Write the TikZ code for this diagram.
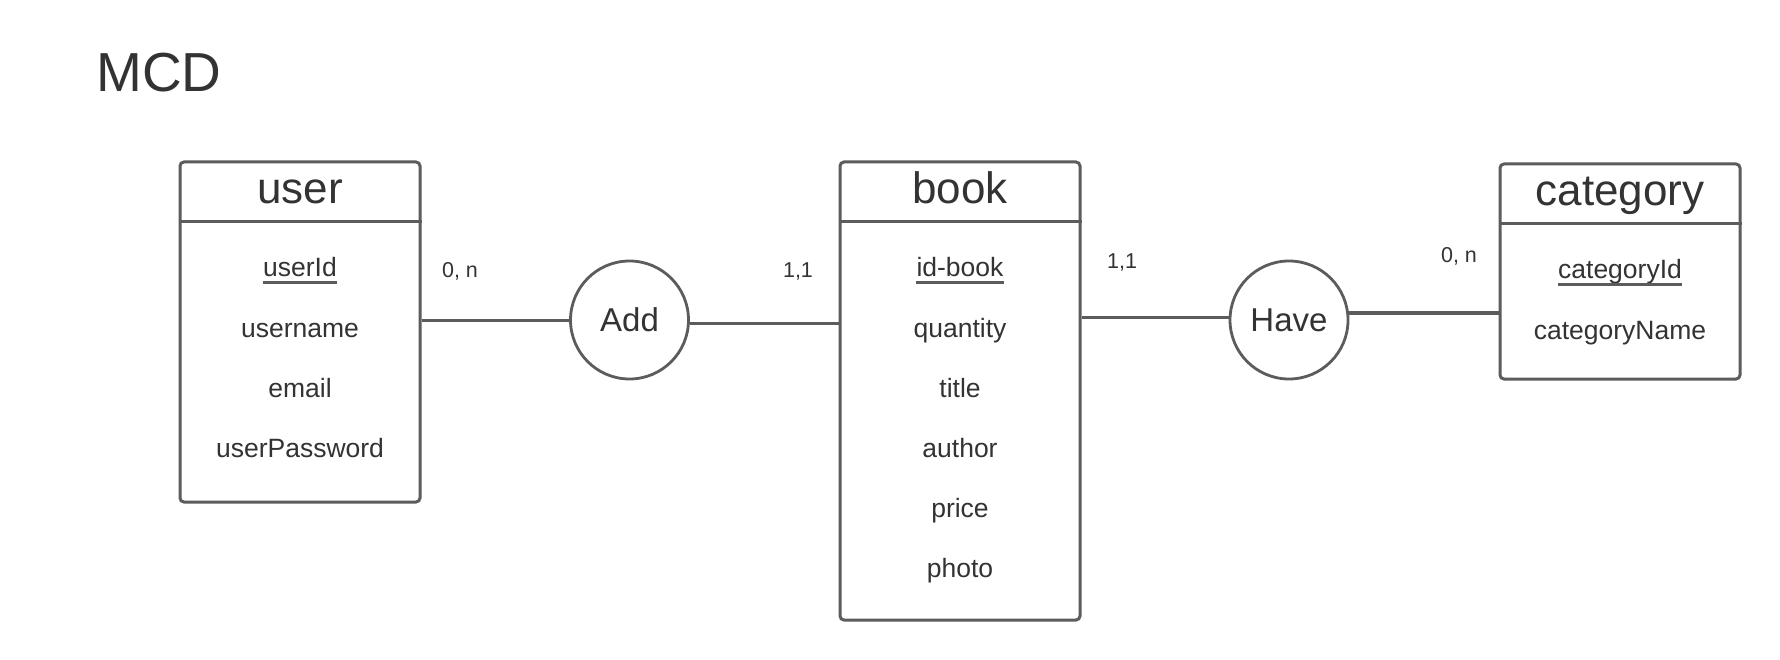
\documentclass[tikz,border=0pt]{standalone}
\usepackage{fontspec}
\setmainfont{Liberation Sans}
\usetikzlibrary{positioning}
\definecolor{linegray}{HTML}{5C5C5C}
\definecolor{textgray}{HTML}{333333}
\tikzset{
	entity/.style={draw=linegray,line width=3,rounded corners=4,minimum width=240,inner sep=0},
	header/.style={anchor=base,inner sep=0,text=textgray,font=\fontsize{44}{50}\selectfont},
	attr/.style={anchor=base,inner sep=0,text=textgray,font=\fontsize{26.5}{30}\selectfont},
	relation/.style={draw=linegray,line width=2.8,circle,minimum size=118,inner sep=0,text=textgray,font=\fontsize{33}{38}\selectfont},
	card/.style={anchor=base,inner sep=0,text=textgray,font=\fontsize{21.5}{24}\selectfont},
	link/.style={draw=linegray,line width=3},
	keyline/.style={draw=linegray,line width=2.6}
}
\begin{document}
\begin{tikzpicture}[x=1pt,y=-1pt]
			\useasboundingbox[fill=white] (0,0) rectangle (1780,660);
			\node[anchor=base west,inner sep=0,text=textgray,font=\fontsize{55}{62}\selectfont] (mcd) at (96,92) {MCD};
			
			\node[entity,minimum height=340] (user) at (300,332) {};
			\node[entity,minimum height=458] (book) at (960,391) {};
			\node[entity,minimum height=215] (category) at (1620,271.5) {};
			\draw[link] ([yshift=-61]user.north west) -- ([yshift=-61]user.north east);
			\draw[link] ([yshift=-61]book.north west) -- ([yshift=-61]book.north east);
			\draw[link] ([yshift=-61]category.north west) -- ([yshift=-61]category.north east);
			
			\node[header] (usert) at (300,204) {user};
			\node[header] (bookt) at (960,204) {book};
			\node[header] (categoryt) at (1620,206) {category};
			
			\node[attr] (uid) at (300,277) {userId};
			\node[attr] (uname) at (300,337) {username};
			\node[attr] (umail) at (300,397) {email};
			\node[attr] (upass) at (300,457) {userPassword};
			
			\node[attr] (bid) at (960,277) {id-book};
			\node[attr] (bqty) at (960,337) {quantity};
			\node[attr] (btitle) at (960,397) {title};
			\node[attr] (bauthor) at (960,457) {author};
			\node[attr] (bprice) at (960,517) {price};
			\node[attr] (bphoto) at (960,577) {photo};
			
			\node[attr] (cid) at (1620,279) {categoryId};
			\node[attr] (cname) at (1620,339) {categoryName};
			
			\draw[keyline] ([yshift=-5.5]uid.base west) -- ([yshift=-5.5]uid.base east);
			\draw[keyline] ([yshift=-5.5]bid.base west) -- ([yshift=-5.5]bid.base east);
			\draw[keyline] ([yshift=-5.5]cid.base west) -- ([yshift=-5.5]cid.base east);
			
			\node[relation] (add) at (629.5,320) {Add};
			\node[relation] (have) at (1289,320) {Have};
			
			\draw[link] (user.east |- add.west) -- (add.west);
			\draw[link] ([yshift=-3]add.east) -- ([yshift=-3]add.east -| book.west);
			\draw[link] ([yshift=3]have.west -| book.east) -- ([yshift=3]have.west);
			\draw[link] ([yshift=7]have.east) -- ([yshift=7]have.east -| category.west);
			
			\node[card] (useradd) at (460,278) {0, n};
			\node[card] (addbook) at (798,278) {1,1};
			\node[card] (bookhave) at (1122,269) {1,1};
			\node[card] (havecat) at (1459,263) {0, n};
		\end{tikzpicture}
\end{document}
